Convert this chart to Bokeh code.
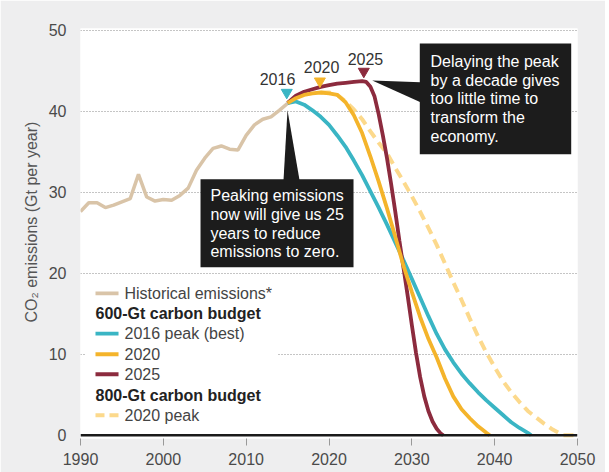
from bokeh.plotting import figure
from bokeh.models import Range1d, Span, Title, FixedTicker
from bokeh.embed import file_html
from bokeh.resources import INLINE
from bokeh.core.properties import value

# ---------------- data ----------------
hist_years = list(range(1990, 2016))
hist_vals = [27.6, 28.7, 28.7, 28.1, 28.4, 28.8, 29.2, 32.2, 29.4, 28.9,
             29.1, 29.0, 29.6, 30.5, 32.7, 34.2, 35.4, 35.7, 35.3, 35.2,
             37.0, 38.3, 39.0, 39.3, 40.1, 40.95]

p2016_years = list(range(2015, 2045)) + [2044.4]
p2016_vals = [41.0, 41.2, 40.8, 40.1, 39.3, 38.3, 37.0, 35.6, 33.9, 32.1,
              30.1, 28.1, 26.0, 23.8, 21.6, 19.3, 17.0, 14.7, 12.5, 10.6,
              9.0, 7.6, 6.4, 5.3, 4.3, 3.4, 2.5, 1.6, 0.9, 0.3, 0.0]

p2020_years = list(range(2015, 2040)) + [2039.4]
p2020_vals = [41.0, 41.6, 42.0, 42.2, 42.3, 42.2, 42.0, 41.1, 39.5, 37.3,
              34.4, 31.3, 28.0, 24.5, 20.9, 17.7, 14.6, 11.9, 9.6, 7.0,
              4.8, 3.2, 2.1, 1.1, 0.3, 0.0]

p2025_years = [2015, 2016, 2017, 2018, 2019, 2020, 2021, 2022, 2023, 2024,
               2024.5, 2025, 2025.5, 2026, 2026.5, 2027, 2027.5, 2028, 2028.5,
               2029, 2029.5, 2030, 2030.5, 2031, 2031.5, 2032, 2032.5, 2033,
               2033.5, 2033.8]
p2025_vals = [41.0, 41.9, 42.4, 42.7, 43.0, 43.2, 43.4, 43.5, 43.6, 43.7,
              43.6, 43.0, 41.8, 39.6, 37.0, 34.2, 31.0, 27.6, 24.0,
              20.6, 17.2, 13.6, 10.2, 7.2, 4.8, 3.0, 1.7, 0.8,
              0.2, 0.0]

p800_years = list(range(2019, 2049)) + [2048.3, 2050]
p800_vals = [42.3, 42.3, 42.0, 41.2, 40.2, 39.0, 37.5, 36.1, 34.8, 33.0,
             31.3, 29.5, 27.6, 25.6, 23.5, 21.2, 18.9, 16.7, 14.4, 12.2,
             10.2, 8.4, 6.7, 5.3, 4.1, 3.0, 2.2, 1.4, 0.7, 0.15, 0.0, 0.0]

peak_labels = ["2016", "2020", "2025"]
peak_mark_x = [2014.9, 2018.9, 2024.2]
peak_mark_y = [42.3, 43.7, 44.9]

x_ticks = [1990, 2000, 2010, 2020, 2030, 2040, 2050]
y_ticks = [0, 10, 20, 30, 40, 50]

y_title = "CO\u2082 emissions (Gt per year)"
legend_hist = "Historical emissions*"
legend_head1 = "600-Gt carbon budget"
legend_items1 = ["2016 peak (best)", "2020", "2025"]
legend_head2 = "800-Gt carbon budget"
legend_item2 = "2020 peak"

note1 = ["Peaking emissions", "now will give us 25", "years to reduce", "emissions to zero."]
note2 = ["Delaying the peak", "by a decade gives", "too little time to", "transform the", "economy."]

# ---------------- styles ----------------
FONT = "Liberation Sans"
C_HIST = "#d9c4a8"
C_2016 = "#3ab5c4"
C_2020 = "#f4b42b"
C_2025 = "#8c2b3e"
C_800 = "#fcd98c"
C_BOX = "#1c1c1c"

p = figure(width=605, height=472,
           x_range=Range1d(1990, 2050), y_range=Range1d(-0.4, 50.2),
           output_backend="svg", toolbar_location=None,
           min_border_left=80, min_border_right=28,
           min_border_top=28, min_border_bottom=34)
p.background_fill_color = "white"
p.border_fill_color = "#eeeeef"
p.outline_line_color = None

p.xgrid.grid_line_color = None
p.ygrid.ticker = FixedTicker(ticks=y_ticks[1:])
p.ygrid.grid_line_color = "#8a8a8a"
p.ygrid.grid_line_dash = "1 2"
p.ygrid.grid_line_width = 1

p.xaxis.ticker = FixedTicker(ticks=x_ticks)
p.yaxis.ticker = FixedTicker(ticks=y_ticks)
for ax in (p.xaxis, p.yaxis):
    ax.axis_line_color = None
    ax.minor_tick_line_color = None
    ax.major_label_text_font = FONT
    ax.major_label_text_font_size = "16px"
    ax.major_label_text_color = "#4a4a4a"
p.xaxis.major_tick_line_color = "#999999"
p.xaxis.major_tick_in = 0
p.xaxis.major_tick_out = 7
p.xaxis.major_label_standoff = 7
p.yaxis.major_tick_line_color = None
p.yaxis.major_label_standoff = 8

p.add_layout(Title(text=y_title, align="left", offset=116, vertical_align="middle",
                   standoff=10, text_font=FONT, text_font_size="16px",
                   text_font_style="normal", text_color="#555555"), "left")

# legend background
p.quad(left=1990.6, right=2013.8, bottom=0.9, top=19.0,
       fill_color="white", line_color=None)

# lines
p.line(hist_years, hist_vals, line_color=C_HIST, line_width=3.5)
p.line(p800_years, p800_vals, line_color=C_800, line_width=4, line_dash="10 6")
p.line(p2016_years, p2016_vals, line_color=C_2016, line_width=3.8)
p.line(p2025_years, p2025_vals, line_color=C_2025, line_width=3.8)
p.line(p2020_years, p2020_vals, line_color=C_2020, line_width=3.8)

p.add_layout(Span(location=0, dimension="width", line_color="#1a1a1a", line_width=2.5))

# peak markers and labels
p.scatter(peak_mark_x, peak_mark_y, marker="inverted_triangle", size=11,
          color=[C_2016, C_2020, C_2025])
p.text([2013.78, 2019.1, 2024.4], [43.95, 45.47, 46.42], text=peak_labels,
       text_font=value(FONT), text_font_size="16px", text_color="#333333",
       text_align="center", text_baseline="middle")

# legend
lx0, lx1, tx = 1991.81, 1994.59, 1995.31
rows = [17.5, 15.0, 12.55, 10.0, 7.53, 4.94, 2.47]
p.segment(lx0, rows[0], lx1, rows[0], line_color=C_HIST, line_width=3.8)
p.segment(lx0, rows[2], lx1, rows[2], line_color=C_2016, line_width=3.8)
p.segment(lx0, rows[3], lx1, rows[3], line_color=C_2020, line_width=3.8)
p.segment(lx0, rows[4], lx1, rows[4], line_color=C_2025, line_width=3.8)
p.segment(lx0, rows[6], lx1, rows[6], line_color=C_800, line_width=4, line_dash="9 5")
p.text([tx], [rows[0]], text=[legend_hist], text_font=value(FONT), text_font_size="16px",
       text_color="#444444", text_baseline="middle")
p.text([tx] * 3, rows[2:5], text=legend_items1, text_font=value(FONT), text_font_size="16px",
       text_color="#444444", text_baseline="middle")
p.text([tx], [rows[6]], text=[legend_item2], text_font=value(FONT), text_font_size="16px",
       text_color="#444444", text_baseline="middle")
p.text([lx0, lx0], [rows[1], rows[5]], text=[legend_head1, legend_head2],
       text_font=value(FONT), text_font_size="16px", text_font_style="bold",
       text_color="#222222", text_baseline="middle")

# annotation 1
p.quad(left=2004.49, right=2022.96, bottom=20.74, top=31.6, fill_color=C_BOX, line_color=None)
p.patch([2014.99, 2014.51, 2016.44], [40.12, 31.5, 31.5], fill_color=C_BOX, line_color=None)
p.text([2005.69] * 4, [29.63, 27.28, 24.95, 22.63], text=note1,
       text_font=value(FONT), text_font_size="16px", text_color="white",
       text_baseline="middle")

# annotation 2
p.quad(left=2030.96, right=2049.24, bottom=34.69, top=48.36, fill_color=C_BOX, line_color=None)
p.patch([2025.22, 2031.05, 2031.05], [43.77, 43.58, 41.11], fill_color=C_BOX, line_color=None)
p.text([2032.26] * 5, [46.17, 43.83, 41.52, 39.22, 36.83], text=note2,
       text_font=value(FONT), text_font_size="16px", text_color="white",
       text_baseline="middle")

open("out.html", "w").write(file_html(p, INLINE))
